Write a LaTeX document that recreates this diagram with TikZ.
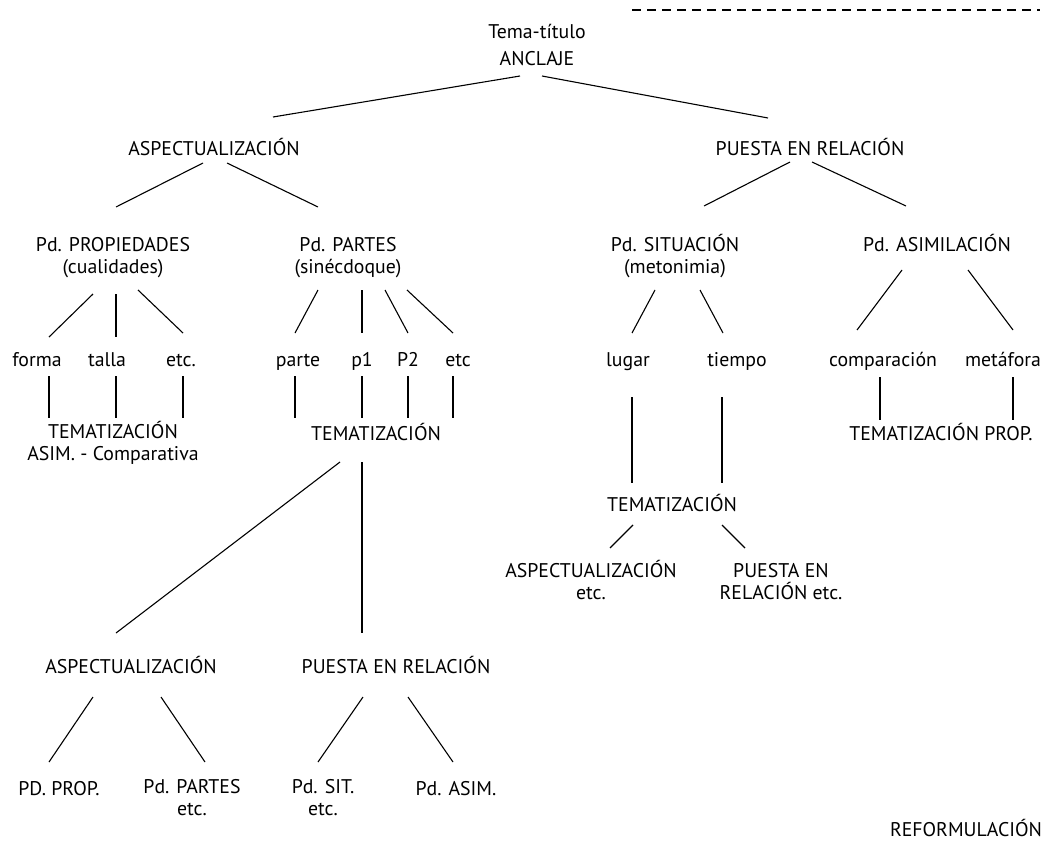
\documentclass[tikz,border=0pt]{standalone}
\usepackage{fontspec}
\setmainfont{PT Sans}
\usetikzlibrary{positioning}

\tikzset{
  lbl/.style={inner sep=0pt, anchor=base, align=center,
    font=\fontsize{19.8}{22}\selectfont},
  link/.style={black, line width=1.1pt}
}

\begin{document}
\begin{tikzpicture}[x=1pt, y=-1pt]
\useasboundingbox (0,0) rectangle (1049,843);
% top
\node[lbl] (tema) at (537,66) {Tema-título\\[6pt]ANCLAJE};
\coordinate (dashL) at (632,10);
\coordinate (dashR) at (1040,10);
\draw[link, dash pattern=on 9pt off 6pt] (dashL) -- (dashR);
\node[lbl] (aspL) at (214,155) {ASPECTUALIZACIÓN};
\node[lbl] (pueR) at (810,155) {PUESTA EN RELACIÓN};
\draw[link] ([shift={(-17,10)}]tema.base) -- ([shift={(59,-38)}]aspL.base);
\draw[link] ([shift={(5,10)}]tema.base) -- ([shift={(-42,-37)}]pueR.base);

% left branch
\node[lbl] (pprop) at (113,273) {Pd. PROPIEDADES\\(cualidades)};
\node[lbl] (ppart) at (348,273) {Pd. PARTES\\(sinécdoque)};
\draw[link] ([shift={(-11,8)}]aspL.base) -- ([shift={(3,-66)}]pprop.base);
\draw[link] ([shift={(13,8)}]aspL.base) -- ([shift={(-30,-66)}]ppart.base);

\node[lbl] (forma) at (37,366) {forma};
\node[lbl] (talla) at (107,366) {talla};
\node[lbl] (etcA) at (181,366) {etc.};
\draw[link] ([shift={(-20,21)}]pprop.base) -- ([shift={(12,-29)}]forma.base);
\draw[link] ([shift={(3,21)}]pprop.base) -- ([shift={(9,-29)}]talla.base);
\draw[link] ([shift={(25,17)}]pprop.base) -- ([shift={(2,-33)}]etcA.base);

\node[lbl] (parte) at (298,366) {parte};
\node[lbl] (pone) at (362,366) {p1};
\node[lbl] (ptwo) at (408,366) {P2};
\node[lbl] (etcB) at (458,366) {etc};
\draw[link] ([shift={(-30,17)}]ppart.base) -- ([shift={(-3,-33)}]parte.base);
\draw[link] ([shift={(14,17)}]ppart.base) -- ([shift={(0,-33)}]pone.base);
\draw[link] ([shift={(37,17)}]ppart.base) -- ([shift={(0,-33)}]ptwo.base);
\draw[link] ([shift={(59,17)}]ppart.base) -- ([shift={(-5,-33)}]etcB.base);

\node[lbl] (temA) at (113,460) {TEMATIZACIÓN\\ASIM. - Comparativa};
\draw[link] ([shift={(12,10)}]forma.base) -- ([shift={(-64,-42)}]temA.base);
\draw[link] ([shift={(9,10)}]talla.base) -- ([shift={(3,-42)}]temA.base);
\draw[link] ([shift={(2,10)}]etcA.base) -- ([shift={(70,-42)}]temA.base);

\node[lbl] (temB) at (376,440) {TEMATIZACIÓN};
\draw[link] ([shift={(-3,10)}]parte.base) -- ([shift={(-81,-22)}]temB.base);
\draw[link] ([shift={(0,10)}]pone.base) -- ([shift={(-14,-22)}]temB.base);
\draw[link] ([shift={(0,10)}]ptwo.base) -- ([shift={(32,-22)}]temB.base);
\draw[link] ([shift={(-5,10)}]etcB.base) -- ([shift={(77,-22)}]temB.base);

% reformulation below
\node[lbl] (aspB) at (131,673) {ASPECTUALIZACIÓN};
\node[lbl] (pueB) at (396,673) {PUESTA EN RELACIÓN};
\draw[link] ([shift={(-36,22)}]temB.base) -- ([shift={(-15,-40)}]aspB.base);
\draw[link] ([shift={(-14,22)}]temB.base) -- ([shift={(-34,-40)}]pueB.base);

\node[lbl] (pdprop) at (59,795) {PD. PROP.};
\node[lbl] (pdpart) at (192,815) {Pd. PARTES\\etc.};
\node[lbl] (pdsit) at (323,815) {Pd. SIT.\\etc.};
\node[lbl] (pdasim) at (456,795) {Pd. ASIM.};
\draw[link] ([shift={(-38,24)}]aspB.base) -- ([shift={(-10,-33)}]pdprop.base);
\draw[link] ([shift={(30,24)}]aspB.base) -- ([shift={(13,-53)}]pdpart.base);
\draw[link] ([shift={(-33,24)}]pueB.base) -- ([shift={(-5,-53)}]pdsit.base);
\draw[link] ([shift={(12,24)}]pueB.base) -- ([shift={(-3,-33)}]pdasim.base);

% right branch
\node[lbl] (psit) at (675,273) {Pd. SITUACIÓN\\(metonimia)};
\node[lbl] (pasim) at (937,251) {Pd. ASIMILACIÓN};
\draw[link] ([shift={(-20,7)}]pueR.base) -- ([shift={(29,-67)}]psit.base);
\draw[link] ([shift={(2,7)}]pueR.base) -- ([shift={(-31,-45)}]pasim.base);

\node[lbl] (lugar) at (628,366) {lugar};
\node[lbl] (tiempo) at (737,366) {tiempo};
\draw[link] ([shift={(-20,17)}]psit.base) -- ([shift={(4,-33)}]lugar.base);
\draw[link] ([shift={(25,17)}]psit.base) -- ([shift={(-14,-33)}]tiempo.base);

\node[lbl] (temS) at (672,511) {TEMATIZACIÓN};
\draw[link] ([shift={(4,31)}]lugar.base) -- ([shift={(-40,-28)}]temS.base);
\draw[link] ([shift={(-15,31)}]tiempo.base) -- ([shift={(50,-28)}]temS.base);

\node[lbl] (aspS) at (591,599) {ASPECTUALIZACIÓN\\etc.};
\node[lbl] (pueS) at (781,599) {PUESTA EN\\RELACIÓN etc.};
\draw[link] ([shift={(-39,14)}]temS.base) -- ([shift={(19,-51)}]aspS.base);
\draw[link] ([shift={(50,14)}]temS.base) -- ([shift={(-36,-51)}]pueS.base);

\node[lbl] (compar) at (883,366) {comparación};
\node[lbl] (metaf) at (1003,366) {metáfora};
\draw[link] ([shift={(-35,19)}]pasim.base) -- ([shift={(-26,-36)}]compar.base);
\draw[link] ([shift={(31,19)}]pasim.base) -- ([shift={(10,-36)}]metaf.base);

\node[lbl] (temP) at (941,440) {TEMATIZACIÓN PROP.};
\draw[link] ([shift={(-3,11)}]compar.base) -- ([shift={(-61,-20)}]temP.base);
\draw[link] ([shift={(10,11)}]metaf.base) -- ([shift={(72,-20)}]temP.base);

\node[lbl] (reform) at (966,836) {REFORMULACIÓN};
\end{tikzpicture}
\end{document}
